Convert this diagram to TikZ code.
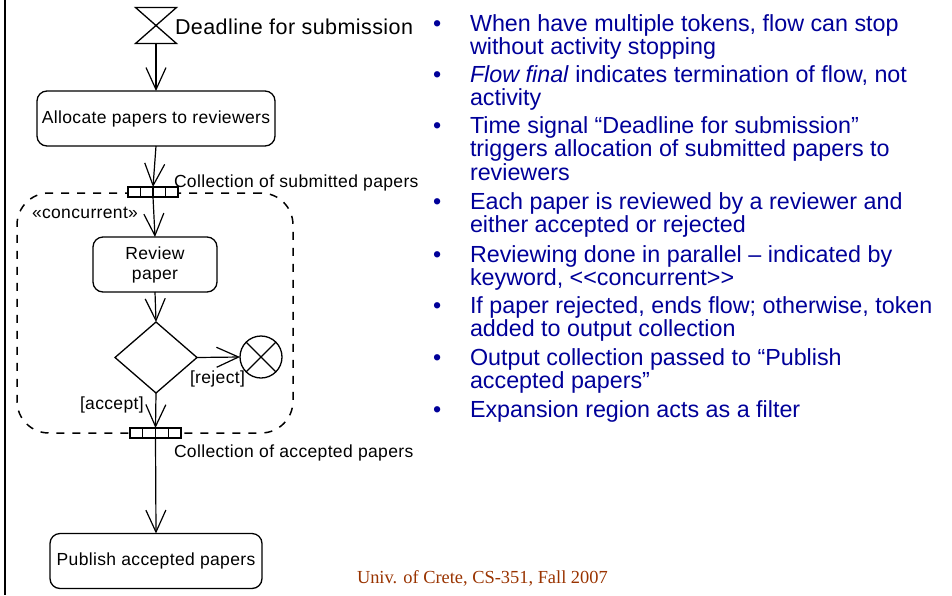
\documentclass[tikz,border=0pt]{standalone}
\usepackage{fontspec}
\setmainfont{Liberation Sans}
\newfontfamily\footfont{Liberation Serif}
\usetikzlibrary{arrows.meta,shapes.geometric}
\definecolor{bulletblue}{RGB}{0,0,153}
\definecolor{footbrown}{RGB}{153,51,0}
\newcommand{\twoline}[2]{\begin{tabular}[t]{@{}l@{}}#1\\#2\end{tabular}}
\newcommand{\threeline}[3]{\begin{tabular}[t]{@{}l@{}}#1\\#2\\#3\end{tabular}}
\begin{document}
\begin{tikzpicture}[x=1pt,y=-1pt,
  every node/.style={inner sep=0pt, outer sep=0pt},
  diafont/.style={font=\addfontfeature{LetterSpace=2}\fontsize{17.5}{20}\selectfont},
  act/.style={draw, rounded corners=10pt, line width=1.3pt, diafont, align=center},
  flow/.style={draw, line width=1.2pt, -{Straight Barb[length=22pt,width=20pt,line width=1.2pt]}},
  lbl/.style={diafont, anchor=base west},
  pinbox/.style={draw, fill=white, line width=1.2pt, minimum width=50pt, minimum height=10pt},
  region/.style={draw, line width=1.5pt, dash pattern=on 8pt off 8pt, rounded corners=32pt},
  bul/.style={text=bulletblue, font=\fontsize{23.3}{23}\selectfont, anchor=base west},
]
\useasboundingbox (0,0) rectangle (952,595);

% left frame line
\draw[line width=2.5pt] (5,0) -- (5,595);

% time signal
\node[minimum width=41pt, minimum height=36pt] (sig) at (156,25.5) {};
\draw[line width=1.3pt, line join=miter] (sig.north west) -- (sig.north east) -- (sig.south west) -- (sig.south east) -- cycle;
\node[font=\addfontfeature{LetterSpace=2}\fontsize{21.5}{24}\selectfont, anchor=base west] (siglbl) at (175,34) {Deadline for submission};

% actions
\node[act, minimum width=238pt, minimum height=55pt] (alloc) at (156,118.5) {Allocate papers to reviewers};

% expansion region
\node[region, minimum width=276pt, minimum height=240pt] (exp) at (155,313) {};
\node[lbl] (conc) at (32,218) {«concurrent»};

% input and output collections
\node[pinbox] (pin1) at (153,192) {};
\foreach \i in {1,2,3} \draw[line width=1.2pt] (pin1.north west) ++(\i*12.5,0) -- ++(0,10);
\node[pinbox, minimum width=51pt] (pin2) at (155.5,433) {};
\foreach \i in {1,2,3} \draw[line width=1.2pt] (pin2.north west) ++(\i*12.75,0) -- ++(0,10);
\node[lbl] (pin1lbl) at (174,187) {Collection of submitted papers};
\node[lbl] (pin2lbl) at (174,457) {Collection of accepted papers};

\node[act, minimum width=124pt, minimum height=55pt] (review) at (155,264.5) {Review\\paper};
\node[draw, diamond, line width=1.3pt, minimum width=82pt, minimum height=71pt, aspect=1.15] (dec) at (156,357.5) {};
\node[draw, circle, line width=1.3pt, minimum size=42pt] (ff) at (261,357) {};
\draw[line width=1.3pt] (ff.north west) -- (ff.south east) (ff.north east) -- (ff.south west);
\node[lbl] (rej) at (190,383) {[reject]};
\node[lbl] (acc) at (80,409) {[accept]};

\node[act, minimum width=212pt, minimum height=55pt] (publish) at (156,561) {Publish accepted papers};

% flows
\draw[flow] (sig.south) -- (alloc.north);
\draw[flow] (alloc.south) -- (pin1.north);
\draw[flow] (pin1.south) -- (review.north);
\draw[flow] (review.south) -- (dec.north);
\draw[flow] (dec.east) -- (ff.west);
\draw[flow] (dec.south) -- (pin2.north);
\draw[flow] (pin2.south) -- (publish.north);

% notes
\foreach \y/\n in {31/1,82/2,133/3,209/4,262/5,313/6,365/7,417/8}
  \node[bul] (dot\n) at (433,\y) {•};
\node[bul] (t1) at (470,31) {\twoline{When have multiple tokens, flow can stop}{without activity stopping}};
\node[bul] (t2) at (470,82) {\twoline{\textit{Flow final} indicates termination of flow, not}{activity}};
\node[bul] (t3) at (470,133) {\threeline{Time signal “Deadline for submission”}{triggers allocation of submitted papers to}{reviewers}};
\node[bul] (t4) at (470,209) {\twoline{Each paper is reviewed by a reviewer and}{either accepted or rejected}};
\node[bul] (t5) at (470,262) {\twoline{Reviewing done in parallel – indicated by}{keyword, \mbox{<}\mbox{<}concurrent\mbox{>}\mbox{>}}};
\node[bul] (t6) at (470,313) {\twoline{If paper rejected, ends flow; otherwise, token}{added to output collection}};
\node[bul] (t7) at (470,365) {\twoline{Output collection passed to “Publish}{accepted papers”}};
\node[bul] (t8) at (470,417) {Expansion region acts as a filter};

% footer
\node[text=footbrown, font=\footfont\fontsize{18.4}{20}\selectfont, anchor=base west] (foot) at (357,583) {Univ. of Crete, CS-351, Fall 2007};
\end{tikzpicture}
\end{document}
